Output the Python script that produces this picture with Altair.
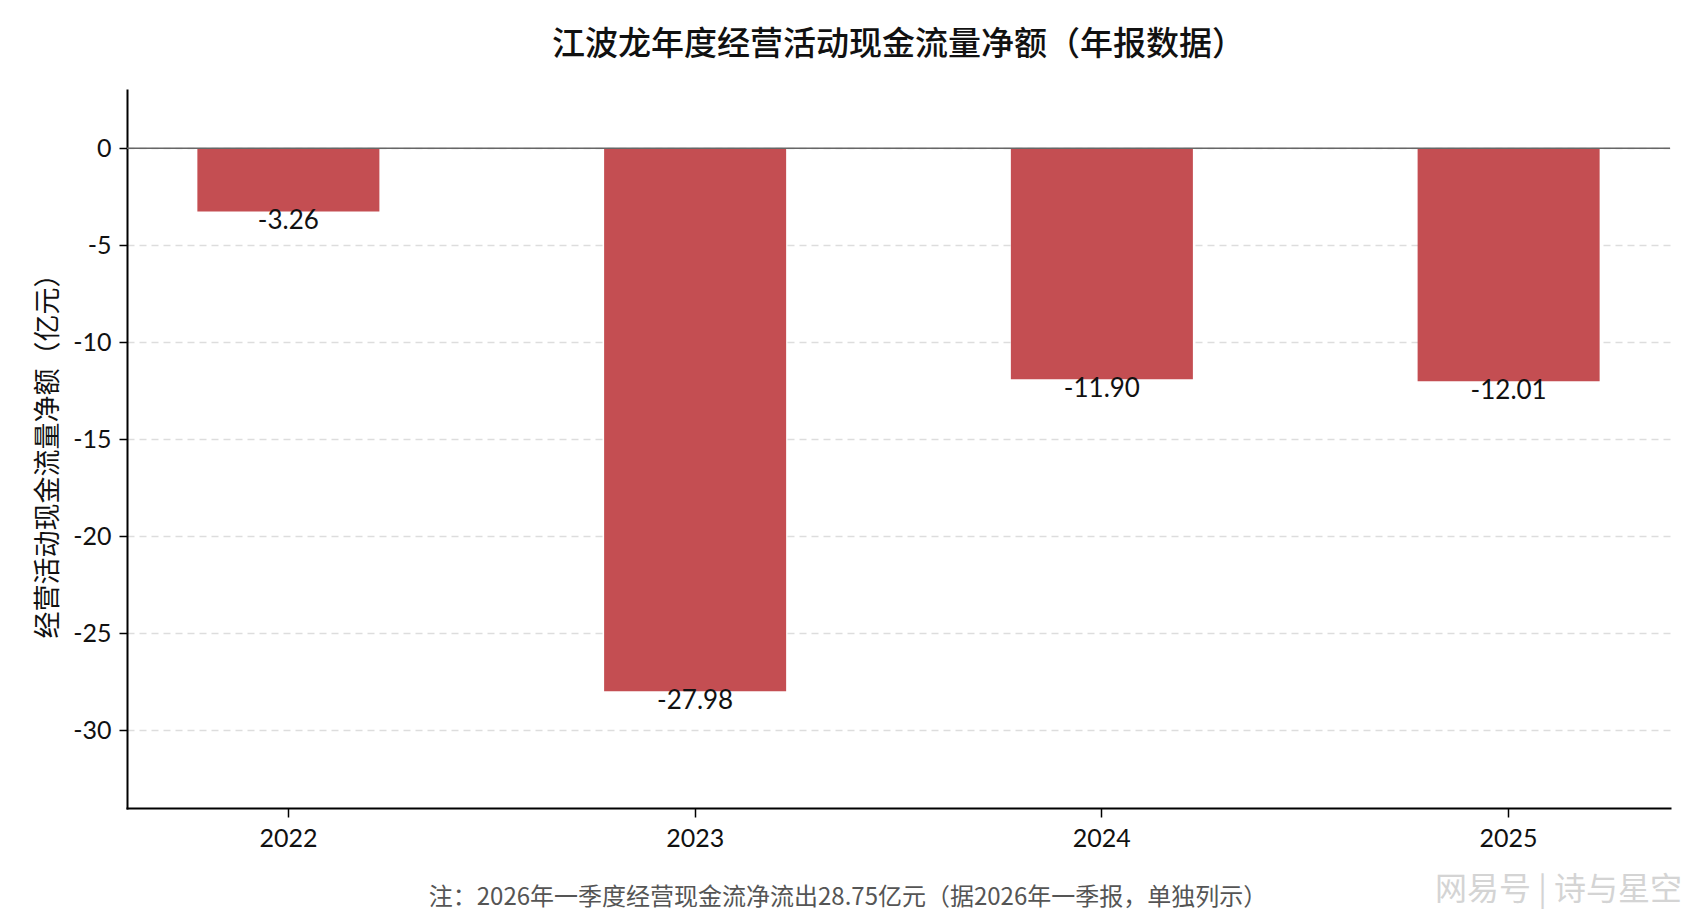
import altair as alt
import pandas as pd

years = ["2022", "2023", "2024", "2025"]
values = [-3.26, -27.98, -11.90, -12.01]
y_ticks = [-30, -25, -20, -15, -10, -5, 0]

title_text = "江波龙年度经营活动现金流量净额（年报数据）"
y_title = "经营活动现金流量净额（亿元）"
footer_text = "注：2026年一季度经营现金流净流出28.75亿元（据2026年一季报，单独列示）"
watermark_text = "网易号 | 诗与星空"

FONT = "Lato, 'Noto Sans CJK SC', sans-serif"
CJK = "'Noto Sans CJK SC', sans-serif"

df = pd.DataFrame({"year": years, "value": values})
df["label"] = [f"{v:.2f}" for v in values]

W, H = 1543, 718

xscale = alt.Scale(domain=years, paddingInner=0.5525, paddingOuter=0.173)
yscale = alt.Scale(domain=[-34, 3], nice=False, zero=False)

base = alt.Chart(df)

bars = base.mark_bar(color="#C44E52").encode(
    x=alt.X("year:N", scale=xscale, sort=years,
            axis=alt.Axis(title=None, labelAngle=0, labelFontSize=25, labelFont=FONT,
                          labelColor="#111", tickSize=9, tickColor="#000", tickWidth=1.5,
                          domainColor="#000", domainWidth=2, labelPadding=9, grid=False)),
    y=alt.Y("value:Q", scale=yscale,
            axis=alt.Axis(title=y_title, titleFont=CJK, titleFontSize=27, titleFontWeight="normal",
                          titleColor="#111", titlePadding=10, values=y_ticks,
                          labelExpr="toString(datum.value)",
                          labelFontSize=25, labelFont=FONT, labelColor="#111", labelPadding=8,
                          tickSize=8, tickColor="#000", tickWidth=1.5,
                          domainColor="#000", domainWidth=2,
                          grid=True, gridColor="#dddddd", gridDash=[7, 5], gridWidth=1.3)),
    y2=alt.datum(0),
)

zero = alt.Chart(pd.DataFrame({"z": [0]})).mark_rule(color="#666666", strokeWidth=1.5).encode(
    y=alt.Y("z:Q", scale=yscale)
)

labels = base.mark_text(baseline="top", dy=-3, fontSize=26, font=FONT, color="#111").encode(
    x=alt.X("year:N", scale=xscale, sort=years),
    y=alt.Y("value:Q", scale=yscale),
    text="label:N",
)

footer = alt.Chart(pd.DataFrame({"t": [footer_text]})).mark_text(
    fontSize=24, font=CJK, color="#555555", align="center", baseline="middle"
).encode(x=alt.value(721), y=alt.value(808), text="t:N")

watermark = alt.Chart(pd.DataFrame({"t": [watermark_text]})).mark_text(
    fontSize=32, font=CJK, color="#d4d4d4", align="right", baseline="middle"
).encode(x=alt.value(1555), y=alt.value(800), text="t:N")

chart = alt.layer(bars, zero, labels, footer, watermark).properties(
    width=W, height=H,
    title=alt.TitleParams(title_text, font=CJK, fontSize=33, fontWeight=500, color="#111",
                          anchor="middle", offset=28),
    autosize=alt.AutoSizeParams(type="none"),
    padding={"left": 119, "top": 82, "right": 14, "bottom": 110},
).configure_view(stroke=None).configure_axis(domainCap="square")

chart.save("out.html", embed_options={"renderer": "svg", "actions": False})
